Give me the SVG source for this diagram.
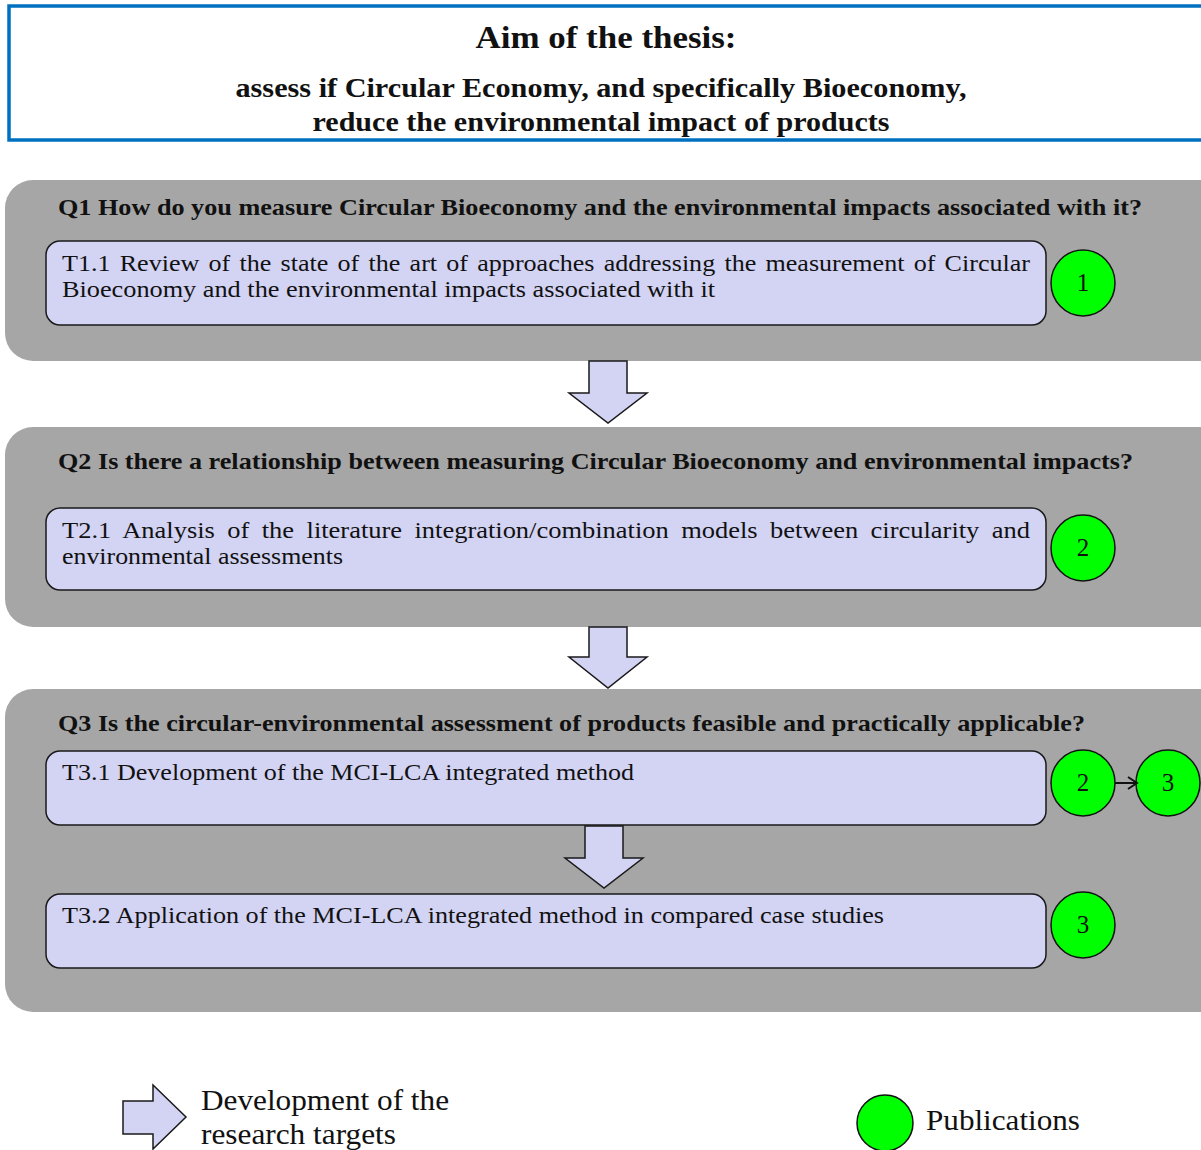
<svg xmlns="http://www.w3.org/2000/svg" width="1201" height="1150" viewBox="0 0 1201 1150">
<style>
.panel{fill:#a6a6a6;stroke:none}
.task{fill:#d3d3f4;stroke:#1a1a1a;stroke-width:1.5}
.pub{fill:#00ff00;stroke:#111;stroke-width:1.5}
.arr{fill:#d3d3f4;stroke:#1a1a1a;stroke-width:1.5;stroke-linejoin:miter}
.serif{font-family:"Liberation Serif","Times New Roman",serif;fill:#111}
.q{font-size:22.5px;font-weight:bold}
.t{font-size:24px}
.n{font-size:25px;text-anchor:middle}
.lg{font-size:30px}
</style>
<defs>
<marker id="ah" markerWidth="14" markerHeight="16" refX="11" refY="8" orient="auto" markerUnits="userSpaceOnUse">
<path d="M2,2 L11,8 L2,14" fill="none" stroke="#111" stroke-width="2"/>
</marker>
</defs>
<rect width="1201" height="1150" fill="#ffffff"/>

<g id="aim">
<rect x="9" y="6" width="1200" height="134" fill="#ffffff" stroke="#0070c0" stroke-width="3.5"/>
<text class="serif" x="606" y="48" font-size="32" font-weight="bold" text-anchor="middle" textLength="261" lengthAdjust="spacingAndGlyphs">Aim of the thesis:</text>
<text class="serif" x="601" y="97" font-size="28" font-weight="bold" text-anchor="middle" textLength="731" lengthAdjust="spacingAndGlyphs">assess if Circular Economy, and specifically Bioeconomy,</text>
<text class="serif" x="601" y="131" font-size="28" font-weight="bold" text-anchor="middle" textLength="577" lengthAdjust="spacingAndGlyphs">reduce the environmental impact of products</text>
</g>

<g id="q1">
<rect class="panel" x="5" y="180" width="1230" height="181" rx="28"/>
<text class="serif q" x="58" y="215" textLength="1084" lengthAdjust="spacingAndGlyphs">Q1 How do you measure Circular Bioeconomy and the environmental impacts associated with it?</text>
</g>
<g id="t11">
<rect class="task" x="46" y="241" width="1000" height="84" rx="14"/>
<text class="serif t" x="62" y="271" word-spacing="2.5" textLength="968" lengthAdjust="spacingAndGlyphs">T1.1 Review of the state of the art of approaches addressing the measurement of Circular</text>
<text class="serif t" x="62" y="297" textLength="653" lengthAdjust="spacingAndGlyphs">Bioeconomy and the environmental impacts associated with it</text>
</g>
<g id="pub1">
<ellipse class="pub" cx="1083" cy="283" rx="32" ry="33"/>
<text class="serif n" x="1083" y="291">1</text>
</g>

<g id="q2">
<rect class="panel" x="5" y="427" width="1230" height="200" rx="28"/>
<text class="serif q" x="58" y="469" textLength="1075" lengthAdjust="spacingAndGlyphs">Q2 Is there a relationship between measuring Circular Bioeconomy and environmental impacts?</text>
</g>
<g id="t21">
<rect class="task" x="46" y="508" width="1000" height="82" rx="14"/>
<text class="serif t" x="62" y="538" word-spacing="5.3" textLength="968" lengthAdjust="spacingAndGlyphs">T2.1 Analysis of the literature integration/combination models between circularity and</text>
<text class="serif t" x="62" y="564" textLength="281" lengthAdjust="spacingAndGlyphs">environmental assessments</text>
</g>
<g id="pub2">
<ellipse class="pub" cx="1083" cy="548" rx="32" ry="33"/>
<text class="serif n" x="1083" y="556">2</text>
</g>

<g id="q3">
<rect class="panel" x="5" y="689" width="1230" height="323" rx="28"/>
<text class="serif q" x="58" y="731" textLength="1027" lengthAdjust="spacingAndGlyphs">Q3 Is the circular-environmental assessment of products feasible and practically applicable?</text>
</g>
<g id="t31">
<rect class="task" x="46" y="751" width="1000" height="74" rx="14"/>
<text class="serif t" x="62" y="780" textLength="572" lengthAdjust="spacingAndGlyphs">T3.1 Development of the MCI-LCA integrated method</text>
</g>
<g id="pub2b">
<ellipse class="pub" cx="1083" cy="783" rx="32" ry="33"/>
<text class="serif n" x="1083" y="791">2</text>
</g>
<g id="pub3a">
<ellipse class="pub" cx="1168" cy="783" rx="32" ry="33"/>
<text class="serif n" x="1168" y="791">3</text>
</g>
<g id="t32">
<rect class="task" x="46" y="894" width="1000" height="74" rx="14"/>
<text class="serif t" x="62" y="923" textLength="822" lengthAdjust="spacingAndGlyphs">T3.2 Application of the MCI-LCA integrated method in compared case studies</text>
</g>
<g id="pub3b">
<ellipse class="pub" cx="1083" cy="925" rx="32" ry="33"/>
<text class="serif n" x="1083" y="933">3</text>
</g>

<g id="connectors">
<path class="arr" d="M589,361 L627,361 L627,393 L647,393 L608,423 L569,393 L589,393 Z"/>
<path class="arr" d="M589,627 L627,627 L627,657 L647,657 L608,688 L569,657 L589,657 Z"/>
<path class="arr" d="M585,826 L623,826 L623,858 L643,858 L604,888 L565,858 L585,858 Z"/>
<line x1="1115" y1="783" x2="1137" y2="783" stroke="#111" stroke-width="2" marker-end="url(#ah)"/>
</g>

<g id="legend-arrow">
<path class="arr" d="M123,1101 L153,1101 L153,1085 L186,1117 L153,1149 L153,1134 L123,1134 Z"/>
<text class="serif lg" x="201" y="1110" textLength="248" lengthAdjust="spacingAndGlyphs">Development of the</text>
<text class="serif lg" x="201" y="1144" textLength="195" lengthAdjust="spacingAndGlyphs">research targets</text>
</g>
<g id="legend-pub">
<circle class="pub" cx="885" cy="1123" r="28"/>
<text class="serif lg" x="926" y="1130" textLength="154" lengthAdjust="spacingAndGlyphs">Publications</text>
</g>
</svg>
